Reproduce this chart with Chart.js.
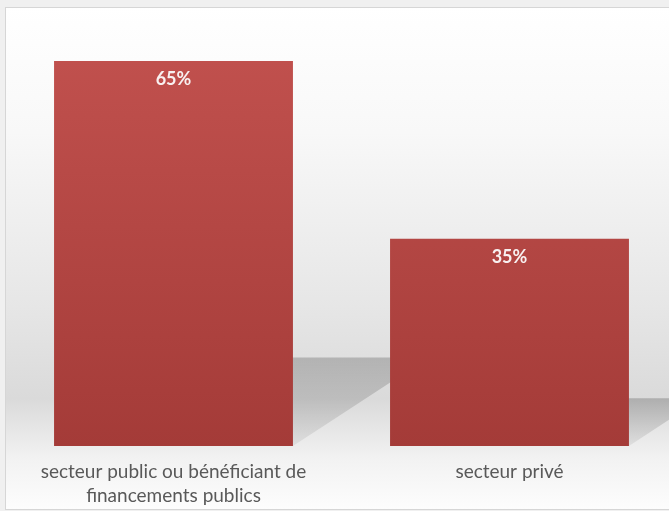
<!DOCTYPE html>
<html>
<head>
<meta charset="utf-8">
<script src="https://cdn.jsdelivr.net/npm/chart.js@4"></script>
<style>
  html, body { margin: 0; padding: 0; background: #f0f0f0; overflow: hidden; }
  #wrap { position: absolute; left: 0; top: 0; width: 690px; height: 511px; }
</style>
</head>
<body>
<div id="wrap"><canvas id="chart" width="690" height="511"></canvas></div>
<script>
// ── Data ──
const categories = [['secteur public ou bénéficiant de', 'financements publics'], 'secteur privé'];
const shares = [65, 35];
const shareLabels = ['65%', '35%'];

const FONT = 'Lato, "Open Sans", sans-serif';

// ── Frame + wall/floor gradient ──
const backdrop = {
  id: 'backdrop',
  beforeDraw(chart) {
    const ctx = chart.ctx;
    ctx.save();
    ctx.fillStyle = '#f0f0f0';
    ctx.fillRect(0, 0, chart.width, chart.height);
    const g = ctx.createLinearGradient(0, 7, 0, 509);
    g.addColorStop(0, '#ffffff');
    g.addColorStop(0.25, '#f8f8f8');
    g.addColorStop(0.6, '#e6e6e6');
    g.addColorStop(0.78, '#dadada');
    g.addColorStop(0.83, '#e4e4e4');
    g.addColorStop(0.9, '#f2f2f2');
    g.addColorStop(1, '#fdfdfd');
    ctx.fillStyle = g;
    ctx.fillRect(5.5, 7.5, chart.width, 502);
    ctx.strokeStyle = '#d6d6d6';
    ctx.lineWidth = 1;
    ctx.strokeRect(5.5, 7.5, chart.width, 502);
    ctx.restore();
  }
};

// ── Perspective shadows behind bars ──
const barShadow = {
  id: 'barShadow',
  beforeDatasetsDraw(chart) {
    const ctx = chart.ctx;
    chart.getDatasetMeta(0).data.forEach(bar => {
      const h = bar.base - bar.y;
      const left = bar.x - bar.width / 2, right = bar.x + bar.width / 2;
      const dx = 0.352 * h, dy = 0.23 * h;
      const g = ctx.createLinearGradient(0, bar.base - dy, 0, bar.base);
      g.addColorStop(0, 'rgba(0,0,0,0.2)');
      g.addColorStop(1, 'rgba(0,0,0,0.06)');
      ctx.save();
      ctx.beginPath();
      ctx.moveTo(left, bar.base);
      ctx.lineTo(right, bar.base);
      ctx.lineTo(right + dx, bar.base - dy);
      ctx.lineTo(left + dx, bar.base - dy);
      ctx.closePath();
      ctx.fillStyle = g;
      ctx.fill();
      ctx.restore();
    });
  }
};

// ── Value labels inside bar tops ──
const valueLabels = {
  id: 'valueLabels',
  afterDatasetsDraw(chart) {
    const ctx = chart.ctx;
    ctx.save();
    ctx.font = 'bold 18px ' + FONT;
    ctx.fillStyle = '#f8f0f0';
    ctx.textAlign = 'center';
    ctx.textBaseline = 'middle';
    chart.getDatasetMeta(0).data.forEach((bar, i) => {
      ctx.fillText(shareLabels[i], bar.x, bar.y + 18);
    });
    ctx.restore();
  }
};

const ctx = document.getElementById('chart');
new Chart(ctx, {
  type: 'bar',
  data: {
    labels: categories,
    datasets: [{
      data: shares,
      backgroundColor: c => {
        const area = c.chart.chartArea;
        if (!area) return '#b94744';
        const g = c.chart.ctx.createLinearGradient(0, area.top, 0, area.bottom);
        g.addColorStop(0, '#c0504d');
        g.addColorStop(1, '#a43b38');
        return g;
      },
      borderWidth: 0,
      categoryPercentage: 1,
      barPercentage: 0.711
    }]
  },
  options: {
    responsive: false,
    animation: false,
    layout: { padding: { left: 5.5, right: 12.5, top: 61, bottom: 0 } },
    plugins: { legend: { display: false }, tooltip: { enabled: false } },
    scales: {
      x: {
        grid: { display: false, drawTicks: false },
        border: { display: false },
        afterFit: s => { s.height = 65; },
        ticks: { color: '#595959', font: { family: FONT, size: 19, lineHeight: 1.27 }, padding: 14, maxRotation: 0, autoSkip: false }
      },
      y: { display: false, min: 0, max: 65 }
    }
  },
  plugins: [backdrop, barShadow, valueLabels]
});
</script>
</body>
</html>
